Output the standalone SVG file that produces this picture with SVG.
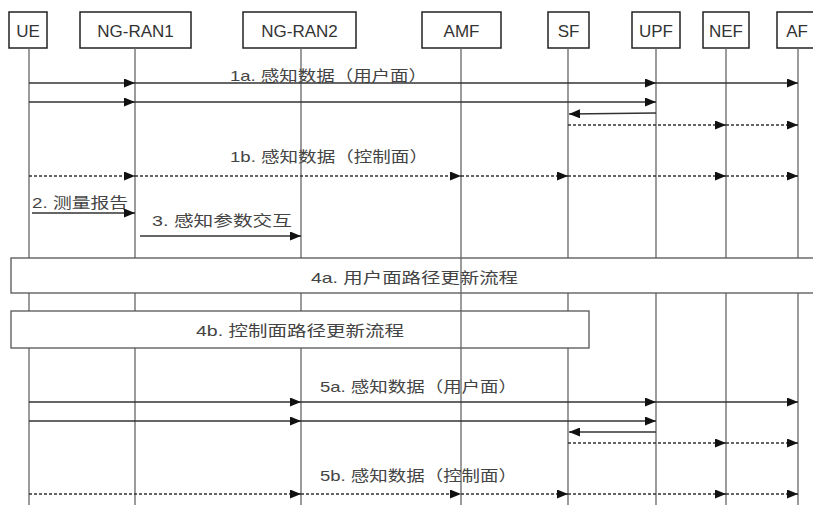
<svg xmlns="http://www.w3.org/2000/svg" width="813" height="510" viewBox="0 0 813 510">
<style>
.bg{fill:#fff}
.hbox{fill:#fff;stroke:#222;stroke-width:1.5}
.htxt{font-family:"Liberation Sans","Noto Sans CJK SC",sans-serif;font-size:17px;fill:#333;text-anchor:middle}
.life{stroke:#666;stroke-width:1.3;fill:none}
.pbox{fill:#fff;stroke:#555;stroke-width:1.3}
.lbl{font-family:"Liberation Sans","Noto Sans CJK SC",sans-serif;font-size:15px;fill:#444}
.msg{stroke:#333;stroke-width:1.3;fill:none;marker-end:url(#ah)}
.dash{stroke-dasharray:3 2}
</style>
<defs>
<marker id="ah" viewBox="0 0 11 9" refX="11" refY="4.5" markerWidth="11" markerHeight="9" markerUnits="userSpaceOnUse" orient="auto">
<path d="M0,0 L11,4.5 L0,9 z" fill="#111"/>
</marker>
</defs>
<rect class="bg" x="0" y="0" width="813" height="510"/>

<g id="UE"><rect class="hbox" x="9" y="12" width="38" height="36"/><text class="htxt" x="28" y="37">UE</text><line class="life" x1="29" y1="48" x2="29" y2="505"/></g>
<g id="NG-RAN1"><rect class="hbox" x="80" y="12" width="111" height="36"/><text class="htxt" x="135.5" y="37">NG-RAN1</text><line class="life" x1="135" y1="48" x2="135" y2="505"/></g>
<g id="NG-RAN2"><rect class="hbox" x="243" y="12" width="113" height="36"/><text class="htxt" x="299.5" y="37">NG-RAN2</text><line class="life" x1="301" y1="48" x2="301" y2="505"/></g>
<g id="SF"><rect class="hbox" x="548" y="12" width="41" height="36"/><text class="htxt" x="568.5" y="37">SF</text><line class="life" x1="568" y1="48" x2="568" y2="505"/></g>
<g id="UPF"><rect class="hbox" x="632" y="12" width="48" height="36"/><text class="htxt" x="656" y="37">UPF</text><line class="life" x1="656" y1="48" x2="656" y2="505"/></g>
<g id="NEF"><rect class="hbox" x="703" y="12" width="46" height="36"/><text class="htxt" x="726" y="37">NEF</text><line class="life" x1="726" y1="48" x2="726" y2="505"/></g>
<g id="AF"><rect class="hbox" x="777" y="12" width="40" height="36"/><text class="htxt" x="797" y="37">AF</text><line class="life" x1="798" y1="48" x2="798" y2="505"/></g>

<g id="step4a"><rect class="pbox" x="11" y="258" width="810" height="35"/><text class="lbl" x="311" y="283" textLength="207" lengthAdjust="spacingAndGlyphs">4a. 用户面路径更新流程</text></g>
<g id="step4b"><rect class="pbox" x="11" y="311" width="578" height="37"/><text class="lbl" x="196" y="336" textLength="208" lengthAdjust="spacingAndGlyphs">4b. 控制面路径更新流程</text></g>

<g id="AMF"><rect class="hbox" x="422" y="12" width="79" height="36"/><text class="htxt" x="461.5" y="37">AMF</text><line class="life" x1="461" y1="48" x2="461" y2="505"/></g>

<g id="connectors">
<text class="lbl" x="230" y="81" textLength="197" lengthAdjust="spacingAndGlyphs">1a. 感知数据（用户面）</text>
<line class="msg" x1="29" y1="83" x2="135" y2="83"/>
<line class="msg" x1="135" y1="83" x2="656" y2="83"/>
<line class="msg" x1="656" y1="83" x2="798" y2="83"/>
<line class="msg" x1="29" y1="102" x2="135" y2="102"/>
<line class="msg" x1="135" y1="102" x2="656" y2="102"/>
<line class="msg" x1="656" y1="113" x2="569" y2="114"/>
<line class="msg dash" x1="568" y1="125" x2="726" y2="125"/>
<line class="msg dash" x1="726" y1="125" x2="798" y2="125"/>

<text class="lbl" x="230" y="162" textLength="198" lengthAdjust="spacingAndGlyphs">1b. 感知数据（控制面）</text>
<line class="msg dash" x1="29" y1="176" x2="135" y2="176"/>
<line class="msg dash" x1="135" y1="176" x2="461" y2="176"/>
<line class="msg dash" x1="461" y1="176" x2="568" y2="176"/>
<line class="msg dash" x1="568" y1="176" x2="726" y2="176"/>
<line class="msg dash" x1="726" y1="176" x2="798" y2="176"/>

<text class="lbl" x="32" y="208" textLength="96" lengthAdjust="spacingAndGlyphs">2. 测量报告</text>
<line class="msg" x1="32" y1="213" x2="135" y2="213"/>
<text class="lbl" x="152" y="226" textLength="140" lengthAdjust="spacingAndGlyphs">3. 感知参数交互</text>
<line class="msg" x1="140" y1="236" x2="301" y2="236"/>

<text class="lbl" x="320" y="392" textLength="197" lengthAdjust="spacingAndGlyphs">5a. 感知数据（用户面）</text>
<line class="msg" x1="29" y1="402" x2="301" y2="402"/>
<line class="msg" x1="301" y1="402" x2="656" y2="402"/>
<line class="msg" x1="656" y1="402" x2="798" y2="402"/>
<line class="msg" x1="29" y1="421" x2="301" y2="421"/>
<line class="msg" x1="301" y1="421" x2="656" y2="421"/>
<line class="msg" x1="656" y1="432" x2="569" y2="432"/>
<line class="msg dash" x1="568" y1="443" x2="726" y2="443"/>
<line class="msg dash" x1="726" y1="443" x2="798" y2="443"/>

<text class="lbl" x="320" y="481" textLength="197" lengthAdjust="spacingAndGlyphs">5b. 感知数据（控制面）</text>
<line class="msg dash" x1="29" y1="494" x2="301" y2="494"/>
<line class="msg dash" x1="301" y1="494" x2="461" y2="494"/>
<line class="msg dash" x1="461" y1="494" x2="568" y2="494"/>
<line class="msg dash" x1="568" y1="494" x2="726" y2="494"/>
<line class="msg dash" x1="726" y1="494" x2="798" y2="494"/>
</g>
</svg>
